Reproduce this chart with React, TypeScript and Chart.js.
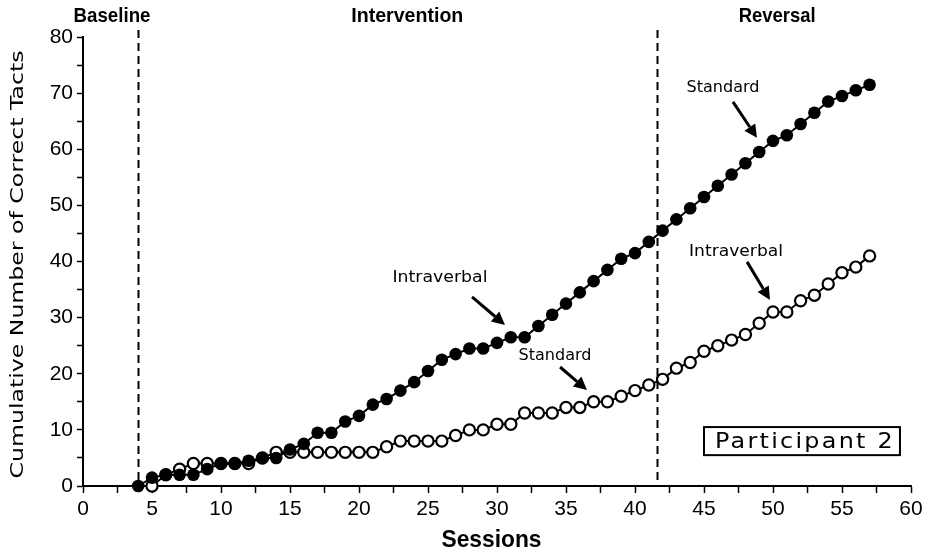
import React, { useEffect, useRef } from "react";
import { Chart, registerables } from "chart.js";

Chart.register(...registerables);

// ---------- data ----------
const filledSessions = [
  4, 5, 6, 7, 8, 9, 10, 11, 12, 13, 14, 15, 16, 17, 18, 19, 20, 21, 22, 23, 24, 25, 26, 27, 28, 29, 30,
  31, 32, 33, 34, 35, 36, 37, 38, 39, 40, 41, 42, 43, 44, 45, 46, 47, 48, 49, 50, 51, 52, 53, 54, 55, 56, 57,
];
const filledValues = [
  0, 1.5, 2, 2, 2, 3, 4, 4, 4.5, 5, 5, 6.5, 7.5, 9.5, 9.5, 11.5, 12.5, 14.5, 15.5, 17, 18.5, 20.5, 22.5,
  23.5, 24.5, 24.5, 25.5, 26.5, 26.5, 28.5, 30.5, 32.5, 34.5, 36.5, 38.5, 40.5, 41.5, 43.5, 45.5, 47.5,
  49.5, 51.5, 53.5, 55.5, 57.5, 59.5, 61.5, 62.5, 64.5, 66.5, 68.5, 69.5, 70.5, 71.5,
];
const openSessions = [
  5, 6, 7, 8, 9, 10, 11, 12, 13, 14, 15, 16, 17, 18, 19, 20, 21, 22, 23, 24, 25, 26, 27, 28, 29, 30,
  31, 32, 33, 34, 35, 36, 37, 38, 39, 40, 41, 42, 43, 44, 45, 46, 47, 48, 49, 50, 51, 52, 53, 54, 55, 56, 57,
];
const openValues = [
  0, 2, 3, 4, 4, 4, 4, 4, 5, 6, 6, 6, 6, 6, 6, 6, 6, 7, 8, 8, 8, 8, 9, 10, 10, 11, 11, 13, 13, 13, 14, 14,
  15, 15, 16, 17, 18, 19, 21, 22, 24, 25, 26, 27, 29, 31, 31, 33, 34, 36, 38, 39, 41,
];
const phaseChangeSessions = [4, 41.6];
const phaseNames = ["Baseline", "Intervention", "Reversal"];
const xMin = 0;
const xMax = 60;
const xStep = 2.5;
const xLabelEvery = 5;
const yMin = 0;
const yMax = 80;
const yStep = 5;
const yLabelEvery = 10;
const xTitle = "Sessions";
const yTitle = "Cumulative Number of Correct Tacts";
const panelLabel = "Participant 2";
const annotationTexts = ["Intraverbal", "Standard", "Standard", "Intraverbal"];

// ---------- drawing helpers ----------
function fitText(
  ctx: CanvasRenderingContext2D,
  text: string,
  cx: number,
  cy: number,
  font: string,
  width: number,
  rotate = 0,
  spacing = "0px"
) {
  ctx.save();
  ctx.font = font;
  (ctx as any).letterSpacing = spacing;
  const w = ctx.measureText(text).width;
  const sx = width / w;
  ctx.translate(cx, cy);
  if (rotate) ctx.rotate(rotate);
  ctx.scale(sx, 1);
  ctx.fillStyle = "#000";
  ctx.textAlign = "center";
  ctx.textBaseline = "middle";
  ctx.fillText(text, 0, 0);
  ctx.restore();
}

function arrow(ctx: CanvasRenderingContext2D, x1: number, y1: number, x2: number, y2: number) {
  const ang = Math.atan2(y2 - y1, x2 - x1);
  const head = 13;
  const half = 6.5;
  const bx = x2 - head * Math.cos(ang);
  const by = y2 - head * Math.sin(ang);
  ctx.save();
  ctx.strokeStyle = "#000";
  ctx.fillStyle = "#000";
  ctx.lineWidth = 3;
  ctx.beginPath();
  ctx.moveTo(x1, y1);
  ctx.lineTo(bx, by);
  ctx.stroke();
  ctx.beginPath();
  ctx.moveTo(x2, y2);
  ctx.lineTo(bx + half * Math.sin(ang), by - half * Math.cos(ang));
  ctx.lineTo(bx - half * Math.sin(ang), by + half * Math.cos(ang));
  ctx.closePath();
  ctx.fill();
  ctx.restore();
}

const overlayPlugin = {
  id: "overlay",
  beforeDatasetsDraw(chart: any) {
    const { ctx, chartArea, scales } = chart;
    ctx.save();
    ctx.strokeStyle = "#000";
    ctx.lineWidth = 2;
    ctx.setLineDash([8, 5]);
    for (const s of phaseChangeSessions) {
      const x = Math.round(scales.x.getPixelForValue(s)) + 0.5;
      ctx.beginPath();
      ctx.moveTo(x, chartArea.top - 7);
      ctx.lineTo(x, chartArea.bottom);
      ctx.stroke();
    }
    ctx.restore();
  },
  afterDraw(chart: any) {
    const { ctx, chartArea, scales } = chart;
    const X = (v: number) => scales.x.getPixelForValue(v);
    const Y = (v: number) => scales.y.getPixelForValue(v);

    // phase labels
    const phaseFont = "bold 21px 'Liberation Sans Narrow', 'Liberation Sans', sans-serif";
    const phaseX = [2.1, 23.5, 50.3];
    const phaseW = [77, 112, 77];
    phaseNames.forEach((n, i) => fitText(ctx, n, X(phaseX[i]), chartArea.top - 21, phaseFont, phaseW[i]));

    // axis titles
    fitText(ctx, xTitle, X(29.6), 540, "bold 24px 'Liberation Sans Narrow', 'Liberation Sans', sans-serif", 100);
    fitText(ctx, yTitle, 18, (chartArea.top + chartArea.bottom) / 2 + 3, "18px 'DejaVu Sans', sans-serif", 428, -Math.PI / 2);

    // annotations
    const annFont = "15px 'DejaVu Sans', sans-serif";
    const annPos = [
      { tx: 25.87, ty: 37.1, w: 95, a: [28.19, 33.69, 30.58, 28.7] },
      { tx: 34.2, ty: 23.2, w: 73, a: [34.57, 21.2, 36.52, 17.11] },
      { tx: 46.38, ty: 70.9, w: 73, a: [47.1, 68.45, 48.84, 62.03] },
      { tx: 47.32, ty: 41.7, w: 94, a: [48.12, 39.93, 49.78, 33.16] },
    ];
    annPos.forEach((p, i) => {
      fitText(ctx, annotationTexts[i], X(p.tx), Y(p.ty), annFont, p.w);
      arrow(ctx, X(p.a[0]), Y(p.a[1]), X(p.a[2]), Y(p.a[3]));
    });

    // participant box
    const bx1 = X(45.0);
    const bx2 = X(59.2);
    const by1 = Y(10.5);
    const by2 = Y(5.5);
    ctx.save();
    ctx.strokeStyle = "#000";
    ctx.lineWidth = 2;
    ctx.strokeRect(bx1, by1, bx2 - bx1, by2 - by1);
    ctx.restore();
    fitText(ctx, panelLabel, (bx1 + bx2) / 2 + 3, (by1 + by2) / 2 + 1, "21px 'DejaVu Sans', sans-serif", 180, 0, "2px");
  },
};

export default function App() {
  const ref = useRef<HTMLCanvasElement | null>(null);

  useEffect(() => {
    if (!ref.current) return;
    const filled = filledSessions.map((s, i) => ({ x: s, y: filledValues[i] }));
    const open = openSessions.map((s, i) => ({ x: s, y: openValues[i] }));
    const tickFont = { family: "'Liberation Sans Narrow', 'Liberation Sans', sans-serif", size: 21 };

    const chart = new Chart(ref.current, {
      type: "line",
      data: {
        datasets: [
          {
            label: "Set A",
            data: filled,
            borderColor: "#000",
            borderWidth: 2,
            pointRadius: 6.3,
            pointBackgroundColor: "#000",
            pointBorderColor: "#000",
            pointBorderWidth: 0,
            fill: false,
            tension: 0,
            clip: false as any,
          },
          {
            label: "Set B",
            data: open,
            borderColor: "#000",
            borderWidth: 2,
            pointRadius: 5.6,
            pointBackgroundColor: "#fff",
            pointBorderColor: "#000",
            pointBorderWidth: 2.2,
            fill: false,
            tension: 0,
            clip: false as any,
          },
        ],
      },
      options: {
        responsive: false,
        animation: false,
        events: [],
        layout: { padding: { left: 0, right: 17, top: 37, bottom: 0 } },
        plugins: { legend: { display: false }, tooltip: { enabled: false }, title: { display: false } },
        scales: {
          x: {
            type: "linear",
            min: xMin,
            max: xMax,
            afterFit: (s: any) => {
              s.height = 70;
            },
            ticks: {
              stepSize: xStep,
              autoSkip: false,
              maxRotation: 0,
              color: "#000",
              font: tickFont,
              padding: 4,
              callback: (v: any) => (Number(v) % xLabelEvery === 0 ? String(v) : ""),
            },
            grid: { drawOnChartArea: false, drawTicks: true, tickLength: 7, color: "#000", tickWidth: 1.5 },
            border: { display: true, color: "#000", width: 2 },
          },
          y: {
            type: "linear",
            min: yMin,
            max: yMax,
            afterFit: (s: any) => {
              s.width = 83;
            },
            ticks: {
              stepSize: yStep,
              autoSkip: false,
              color: "#000",
              font: tickFont,
              padding: 4,
              callback: (v: any) => (Number(v) % yLabelEvery === 0 ? String(v) : ""),
            },
            grid: { drawOnChartArea: false, drawTicks: true, tickLength: 6, color: "#000", tickWidth: 1.5 },
            border: { display: true, color: "#000", width: 2 },
          },
        },
      },
      plugins: [overlayPlugin],
    });
    return () => chart.destroy();
  }, []);

  return (
    <div style={{ position: "fixed", left: 0, top: 0, width: 928, height: 556, background: "#fff" }}>
      <canvas ref={ref} width={928} height={556} style={{ display: "block", width: 928, height: 556 }} />
    </div>
  );
}
